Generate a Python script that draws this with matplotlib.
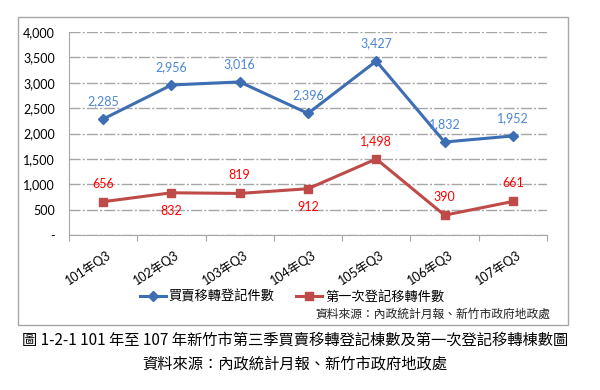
import matplotlib
matplotlib.use("Agg")
import matplotlib.pyplot as plt
from matplotlib.patches import Rectangle
from matplotlib.ticker import FuncFormatter

categories = ["101年Q3", "102年Q3", "103年Q3", "104年Q3", "105年Q3", "106年Q3", "107年Q3"]
sales = [2285, 2956, 3016, 2396, 3427, 1832, 1952]
first_reg = [656, 832, 819, 912, 1498, 390, 661]
red_label_pos = ["up", "down", "up", "down", "up", "up", "up"]
yticks = [0, 500, 1000, 1500, 2000, 2500, 3000, 3500, 4000]
series_names = ["買賣移轉登記件數", "第一次登記移轉件數"]
source_text = "資料來源：內政統計月報、新竹市政府地政處"
caption1 = "圖 1-2-1 101 年至 107 年新竹市第三季買賣移轉登記棟數及第一次登記移轉棟數圖"
caption2 = "資料來源：內政統計月報、新竹市政府地政處"

cjk = ["Noto Sans CJK TC", "DejaVu Sans"]
num_font = ["Lato", "Noto Sans CJK TC", "DejaVu Sans"]
plt.rcParams["font.family"] = num_font

blue = "#3D6EB4"
red = "#BE4B48"
blue_lbl = "#4A86D8"
red_lbl = "#FF0000"

fig = plt.figure(figsize=(6, 3.9), dpi=100)
# outer chart frame
fig.patches.append(Rectangle((18/600, 1-325/390), 550/600, 308/390, transform=fig.transFigure,
                             fill=False, edgecolor="#A6A6A6", linewidth=1.0))

ax = fig.add_axes([69/600, 1-235/390, 478/600, 203/390])
x = list(range(len(categories)))
ax.plot(x, sales, color=blue, lw=2.2, marker="D", markersize=5.5, label=series_names[0], zorder=3)
ax.plot(x, first_reg, color=red, lw=2.2, marker="s", markersize=6, label=series_names[1], zorder=3)

for i, v in enumerate(sales):
    ax.annotate(f"{v:,}", (i, v), xytext=(0, 13), textcoords="offset points",
                ha="center", va="center", color=blue_lbl, fontsize=9)
for i, v in enumerate(first_reg):
    dy = 13 if red_label_pos[i] == "up" else -13
    ax.annotate(f"{v:,}", (i, v), xytext=(0, dy), textcoords="offset points",
                ha="center", va="center", color=red_lbl, fontsize=9)

ax.set_xlim(-0.5, len(categories) - 0.5)
ax.set_ylim(0, 4000)
ax.set_yticks(yticks)
ax.yaxis.set_major_formatter(FuncFormatter(lambda v, p: "-" if v == 0 else f"{int(v):,}"))
ax.tick_params(axis="y", length=0, labelsize=9, pad=10)
ax.grid(axis="y", color="#A6A6A6", lw=1.0, linestyle=(0, (8, 1.5, 1.5, 1.5)))
ax.set_axisbelow(True)

ax.set_xticks([i - 0.5 for i in range(len(categories) + 1)], minor=False)
ax.set_xticklabels([])
ax.tick_params(axis="x", length=4, color="#A6A6A6", direction="out")
for i, c in enumerate(categories):
    ax.text(i + 0.05, -270, c, rotation=33, rotation_mode="anchor", ha="right", va="top",
            fontsize=9, family=num_font, transform=ax.transData)

for s in ["top", "right"]:
    ax.spines[s].set_visible(False)
for s in ["left", "bottom"]:
    ax.spines[s].set_color("#A6A6A6")

leg = fig.legend(loc="center", bbox_to_anchor=(292/600, 1-297/390), ncol=2, frameon=False,
                 prop={"family": cjk, "size": 9.5}, handlelength=2.0, handletextpad=0.2,
                 columnspacing=1.6)

fig.text(550/600, 1-314/390, source_text, ha="right", va="center", fontsize=8.5, family=cjk, color="#222222")
fig.text(295/600, 1-340/390, caption1, ha="center", va="center", fontsize=11, family=cjk)
fig.text(295/600, 1-364/390, caption2, ha="center", va="center", fontsize=11, family=cjk)

fig.savefig("out.png", dpi=100)
